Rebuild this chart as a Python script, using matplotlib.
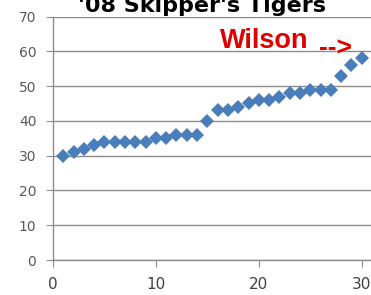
import matplotlib.pyplot as plt

# player index and value
players = list(range(1, 31))
values = [30, 31, 32, 33, 34, 34, 34, 34, 34, 35,
          35, 36, 36, 36, 40, 43, 43, 44, 45, 46,
          46, 47, 48, 48, 49, 49, 49, 53, 56, 58]
yticks = [0, 10, 20, 30, 40, 50, 60, 70]
xticks = [0, 10, 20, 30]

fig = plt.figure(figsize=(3.71, 2.95), dpi=100)
ax = fig.add_axes([53/371, 1 - 260/295, 1 - 53/371, (260 - 16.5)/295])

ax.plot(players, values, linestyle='none', marker='D', markersize=7,
        color='#4a7ebb', markeredgewidth=0, clip_on=False, zorder=3)

ax.set_xlim(0, 30.9)
ax.set_ylim(0, 70)
ax.set_yticks(yticks)
ax.set_xticks(xticks)
ax.yaxis.grid(True, color='#8c8c8c', linewidth=1)
ax.set_axisbelow(True)

for s in ['top', 'right']:
    ax.spines[s].set_visible(False)
for s in ['left', 'bottom']:
    ax.spines[s].set_color('#8c8c8c')
    ax.spines[s].set_linewidth(1)

ax.tick_params(axis='y', length=5, color='#8c8c8c', labelsize=10,
               labelcolor='#595959', pad=7)
ax.tick_params(axis='x', length=5, color='#8c8c8c', labelsize=11,
               labelcolor='#404040', pad=7)

# title is partly off the top edge, as in the original
fig.text(0.545, 1 - 12/295, "'08 Skipper's Tigers", ha='center',
         va='baseline', fontsize=16, fontweight='bold', color='black')

ax.text(20.5, 60.9, 'Wilson', ha='center', va='baseline', fontsize=19.5,
        fontweight='bold', color='#e00000', family='Liberation Sans')
ax.text(25.8, 58.9, '-->', ha='left', va='baseline', fontsize=19,
        fontweight='bold', color='#e00000', family='Liberation Sans')

fig.savefig('out.png', dpi=100)
